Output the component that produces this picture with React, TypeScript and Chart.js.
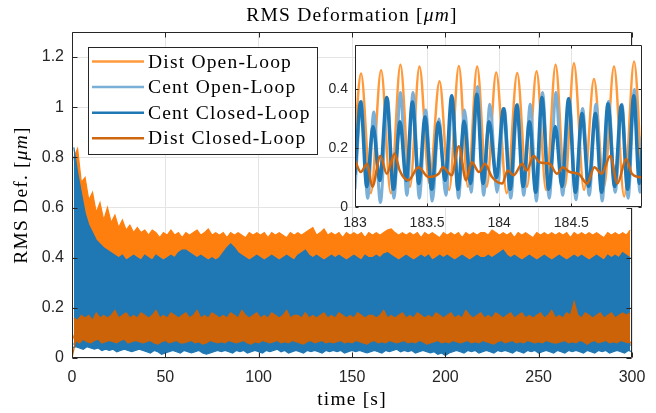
import React, { useEffect, useRef } from "react";
import { Chart, registerables } from "chart.js";
Chart.register(...registerables);

// ---------------- tick values ----------------
const xTicks = [0, 50, 100, 150, 200, 250, 300];
const yTicks = [0, 0.2, 0.4, 0.6, 0.8, 1, 1.2];
const insetXTicks = [183, 183.5, 184, 184.5];
const insetYTicks = [0, 0.2, 0.4];

const seriesNames = ["Dist Open-Loop", "Cent Open-Loop", "Cent Closed-Loop", "Dist Closed-Loop"];
const mainColors = ["#ff7f0e", "#7ab0d8", "#1f77b4", "#cc6309"];
const insetColors = ["#ff9a3c", "#7ab0d8", "#1f77b4", "#cf6710"];

// ---------------- main plot: lower envelope (t = 0,2,...,300) and upper envelope (t = 1,3,...,299) ----------------
const distOLLow = [
  0.10,0.06,0.05,0.07,0.05,0.06,0.04,0.06,0.05,0.07,
  0.05,0.06,0.05,0.04,0.06,0.05,0.07,0.05,0.06,0.05,
  0.06,0.05,0.07,0.05,0.06,0.04,0.06,0.05,0.06,0.05,
  0.05,0.07,0.06,0.05,0.06,0.05,0.04,0.06,0.05,0.06,
  0.06,0.05,0.06,0.05,0.07,0.05,0.06,0.05,0.04,0.06,
  0.05,0.06,0.05,0.06,0.05,0.07,0.05,0.06,0.05,0.06,
  0.06,0.05,0.04,0.06,0.05,0.06,0.07,0.05,0.06,0.05,
  0.05,0.06,0.05,0.07,0.06,0.05,0.06,0.04,0.05,0.06,
  0.06,0.05,0.06,0.05,0.05,0.06,0.05,0.07,0.06,0.05,
  0.05,0.06,0.04,0.06,0.05,0.06,0.05,0.06,0.07,0.05,
  0.06,0.05,0.06,0.05,0.06,0.04,0.06,0.05,0.06,0.05,
  0.05,0.07,0.05,0.06,0.05,0.06,0.05,0.06,0.04,0.06,
  0.06,0.05,0.06,0.05,0.07,0.05,0.06,0.05,0.06,0.05,
  0.05,0.06,0.05,0.06,0.05,0.06,0.04,0.06,0.05,0.07,
  0.06,0.05,0.06,0.05,0.06,0.05,0.06,0.05,0.06,0.05,
  0.06,
];
const distOLHigh = [
  0.80,0.835,0.70,0.72,0.63,0.66,0.58,0.62,0.55,0.60,
  0.54,0.57,0.52,0.55,0.51,0.53,0.50,0.52,0.50,0.51,
  0.49,0.51,0.50,0.48,0.50,0.49,0.51,0.49,0.50,0.48,
  0.50,0.49,0.50,0.51,0.49,0.50,0.515,0.49,0.50,0.49,
  0.50,0.48,0.50,0.49,0.50,0.49,0.48,0.50,0.49,0.50,
  0.49,0.50,0.48,0.50,0.49,0.50,0.49,0.48,0.50,0.49,
  0.50,0.49,0.50,0.51,0.52,0.49,0.50,0.515,0.49,0.50,
  0.49,0.50,0.48,0.50,0.49,0.50,0.49,0.50,0.48,0.50,
  0.49,0.50,0.49,0.50,0.51,0.515,0.50,0.49,0.50,0.49,
  0.50,0.49,0.50,0.48,0.50,0.49,0.50,0.49,0.48,0.50,
  0.49,0.50,0.49,0.50,0.48,0.50,0.49,0.50,0.49,0.50,
  0.50,0.49,0.51,0.50,0.49,0.50,0.49,0.50,0.48,0.50,
  0.49,0.50,0.49,0.48,0.50,0.49,0.50,0.49,0.50,0.49,
  0.50,0.49,0.50,0.48,0.50,0.49,0.50,0.49,0.50,0.49,
  0.50,0.49,0.48,0.50,0.49,0.50,0.49,0.50,0.49,0.51,
];
const centOLLow = [
  0.06,0.05,0.06,0.05,0.06,0.05,0.06,0.05,0.06,0.05,
  0.05,0.06,0.05,0.06,0.04,0.05,0.06,0.05,0.06,0.05,
  0.04,0.05,0.06,0.05,0.04,0.05,0.06,0.05,0.04,0.05,
  0.05,0.04,0.05,0.06,0.05,0.04,0.05,0.06,0.05,0.04,
  0.05,0.06,0.05,0.04,0.05,0.06,0.05,0.04,0.05,0.06,
  0.05,0.04,0.05,0.06,0.05,0.05,0.04,0.05,0.06,0.05,
  0.04,0.05,0.06,0.05,0.04,0.05,0.05,0.06,0.05,0.04,
  0.05,0.06,0.05,0.04,0.05,0.06,0.05,0.05,0.04,0.05,
  0.06,0.05,0.04,0.05,0.06,0.05,0.04,0.05,0.05,0.06,
  0.05,0.04,0.05,0.06,0.05,0.04,0.05,0.06,0.05,0.04,
  0.04,0.05,0.06,0.05,0.04,0.05,0.06,0.05,0.04,0.05,
  0.05,0.06,0.05,0.04,0.05,0.06,0.05,0.04,0.05,0.06,
  0.05,0.04,0.05,0.06,0.05,0.04,0.05,0.06,0.05,0.04,
  0.05,0.06,0.05,0.04,0.05,0.06,0.05,0.04,0.05,0.06,
  0.04,0.05,0.06,0.05,0.04,0.05,0.06,0.05,0.04,0.05,
  0.05,
];
const centOLHigh = [
  0.80,0.71,0.63,0.56,0.51,0.48,0.45,0.44,0.42,0.41,
  0.40,0.39,0.40,0.38,0.39,0.38,0.39,0.40,0.38,0.39,
  0.38,0.39,0.38,0.40,0.39,0.38,0.39,0.37,0.39,0.38,
  0.39,0.40,0.41,0.39,0.38,0.37,0.38,0.39,0.38,0.39,
  0.40,0.42,0.43,0.42,0.40,0.39,0.38,0.39,0.38,0.37,
  0.38,0.39,0.38,0.39,0.37,0.38,0.39,0.38,0.39,0.38,
  0.39,0.38,0.40,0.39,0.38,0.39,0.38,0.37,0.39,0.38,
  0.38,0.39,0.38,0.37,0.39,0.38,0.39,0.38,0.39,0.38,
  0.39,0.38,0.39,0.40,0.38,0.39,0.38,0.39,0.38,0.39,
  0.38,0.39,0.38,0.39,0.38,0.37,0.39,0.38,0.39,0.38,
  0.39,0.38,0.39,0.38,0.39,0.38,0.37,0.39,0.38,0.39,
  0.38,0.39,0.38,0.39,0.38,0.40,0.39,0.38,0.39,0.38,
  0.39,0.38,0.39,0.38,0.37,0.39,0.38,0.39,0.38,0.39,
  0.38,0.39,0.38,0.39,0.38,0.39,0.40,0.38,0.39,0.38,
  0.39,0.38,0.39,0.38,0.39,0.38,0.39,0.38,0.39,0.38,
];
const centCLLow = [
  0.04,0.045,0.04,0.035,0.045,0.04,0.035,0.04,0.03,0.035,
  0.03,0.035,0.025,0.03,0.035,0.03,0.025,0.03,0.035,0.03,
  0.025,0.02,0.03,0.025,0.015,0.02,0.025,0.03,0.025,0.02,
  0.03,0.025,0.02,0.025,0.03,0.02,0.015,0.02,0.025,0.03,
  0.025,0.03,0.025,0.02,0.03,0.025,0.03,0.02,0.025,0.03,
  0.025,0.02,0.03,0.025,0.03,0.035,0.025,0.03,0.02,0.025,
  0.03,0.025,0.02,0.03,0.025,0.03,0.025,0.02,0.03,0.025,
  0.03,0.025,0.03,0.02,0.025,0.03,0.025,0.03,0.025,0.02,
  0.025,0.03,0.025,0.02,0.03,0.025,0.03,0.035,0.025,0.03,
  0.025,0.03,0.02,0.025,0.03,0.025,0.02,0.025,0.015,0.02,
  0.01,0.02,0.025,0.03,0.025,0.02,0.03,0.025,0.03,0.02,
  0.025,0.03,0.025,0.02,0.03,0.025,0.03,0.025,0.02,0.03,
  0.025,0.02,0.03,0.025,0.03,0.02,0.025,0.03,0.025,0.02,
  0.03,0.025,0.02,0.03,0.025,0.03,0.025,0.02,0.03,0.025,
  0.02,0.03,0.025,0.03,0.02,0.025,0.03,0.025,0.02,0.03,
  0.025,
];
const centCLHigh = [
  0.84,0.74,0.66,0.58,0.53,0.50,0.47,0.455,0.44,0.43,
  0.42,0.41,0.40,0.41,0.39,0.40,0.41,0.40,0.39,0.41,
  0.40,0.39,0.41,0.40,0.39,0.40,0.41,0.40,0.42,0.43,
  0.43,0.42,0.41,0.40,0.41,0.40,0.39,0.40,0.39,0.40,
  0.42,0.44,0.455,0.44,0.42,0.41,0.40,0.39,0.40,0.41,
  0.40,0.39,0.40,0.41,0.40,0.39,0.40,0.41,0.40,0.39,
  0.41,0.42,0.43,0.41,0.40,0.41,0.40,0.39,0.40,0.41,
  0.40,0.41,0.40,0.39,0.40,0.41,0.40,0.39,0.41,0.40,
  0.40,0.41,0.40,0.415,0.42,0.41,0.40,0.39,0.40,0.41,
  0.40,0.39,0.40,0.41,0.40,0.41,0.39,0.40,0.41,0.40,
  0.41,0.40,0.39,0.40,0.41,0.40,0.39,0.40,0.41,0.40,
  0.40,0.41,0.40,0.41,0.42,0.43,0.41,0.40,0.41,0.40,
  0.39,0.40,0.41,0.40,0.39,0.40,0.41,0.40,0.39,0.40,
  0.41,0.40,0.39,0.40,0.41,0.40,0.41,0.40,0.39,0.40,
  0.41,0.40,0.39,0.41,0.40,0.41,0.40,0.42,0.41,0.40,
];
const distCLLow = [
  0.00,0.07,0.06,0.075,0.065,0.06,0.07,0.075,0.06,0.065,
  0.07,0.065,0.06,0.07,0.075,0.06,0.065,0.07,0.065,0.06,
  0.065,0.07,0.06,0.055,0.065,0.07,0.06,0.065,0.07,0.06,
  0.06,0.065,0.07,0.06,0.065,0.055,0.06,0.07,0.065,0.06,
  0.065,0.06,0.07,0.065,0.06,0.065,0.07,0.06,0.055,0.065,
  0.06,0.07,0.065,0.06,0.065,0.07,0.06,0.065,0.06,0.07,
  0.065,0.06,0.055,0.065,0.07,0.06,0.065,0.07,0.06,0.065,
  0.06,0.065,0.07,0.06,0.065,0.06,0.07,0.065,0.06,0.055,
  0.065,0.07,0.06,0.065,0.06,0.07,0.065,0.06,0.065,0.07,
  0.06,0.065,0.06,0.07,0.065,0.055,0.06,0.065,0.07,0.06,
  0.065,0.06,0.07,0.065,0.06,0.065,0.07,0.06,0.065,0.06,
  0.07,0.065,0.06,0.055,0.065,0.07,0.06,0.065,0.07,0.06,
  0.065,0.06,0.07,0.065,0.06,0.065,0.06,0.07,0.065,0.06,
  0.06,0.065,0.07,0.06,0.065,0.06,0.07,0.065,0.055,0.065,
  0.07,0.06,0.065,0.07,0.06,0.065,0.06,0.07,0.065,0.06,
  0.065,
];
const distCLHigh = [
  0.16,0.15,0.17,0.16,0.17,0.15,0.18,0.16,0.17,0.16,
  0.17,0.19,0.16,0.17,0.18,0.16,0.17,0.16,0.18,0.17,
  0.16,0.17,0.19,0.16,0.17,0.16,0.18,0.17,0.16,0.17,
  0.18,0.16,0.17,0.19,0.16,0.17,0.16,0.18,0.17,0.16,
  0.17,0.16,0.18,0.17,0.16,0.19,0.17,0.16,0.17,0.18,
  0.16,0.17,0.16,0.18,0.17,0.16,0.17,0.19,0.16,0.17,
  0.17,0.16,0.18,0.16,0.17,0.16,0.17,0.18,0.16,0.17,
  0.16,0.18,0.17,0.16,0.17,0.16,0.18,0.17,0.16,0.17,
  0.17,0.16,0.17,0.19,0.16,0.17,0.16,0.17,0.18,0.16,
  0.17,0.16,0.18,0.17,0.16,0.17,0.16,0.18,0.17,0.16,
  0.17,0.18,0.16,0.17,0.16,0.19,0.17,0.16,0.17,0.18,
  0.16,0.17,0.16,0.18,0.17,0.16,0.17,0.18,0.16,0.17,
  0.18,0.16,0.17,0.16,0.17,0.18,0.16,0.17,0.19,0.16,
  0.17,0.16,0.18,0.17,0.225,0.17,0.16,0.18,0.17,0.16,
  0.17,0.18,0.16,0.17,0.18,0.16,0.17,0.18,0.17,0.18,
];

// ---------------- inset: extrema read from the zoomed window 183 s – 185 s ----------------
const insetDistOLTime = [183.000,183.042,183.110,183.181,183.248,183.315,183.381,183.447,183.516,183.586,183.653,183.720,183.783,183.847,183.913,183.979,184.052,184.125,184.192,184.259,184.325,184.391,184.455,184.518,184.588,184.657,184.727,184.796,184.866,184.935,184.990];
const insetDistOLVal = [0.25,0.454,0.047,0.465,0.047,0.484,0.069,0.478,0.080,0.428,0.058,0.480,0.069,0.478,0.069,0.458,0.047,0.456,0.069,0.462,0.058,0.484,0.069,0.489,0.058,0.436,0.069,0.478,0.036,0.495,0.07];

const insetCentOLTime = [183.000,183.044,183.088,183.130,183.176,183.225,183.270,183.315,183.360,183.402,183.446,183.490,183.536,183.582,183.630,183.675,183.718,183.760,183.805,183.850,183.892,183.935,183.985,184.035,184.080,184.126,184.170,184.215,184.258,184.300,184.347,184.393,184.440,184.485,184.532,184.578,184.624,184.671,184.714,184.758,184.804,184.851,184.894,184.937,184.976,184.990];
const insetCentOLVal = [0.06,0.36,0.03,0.323,0.015,0.37,0.03,0.39,0.04,0.39,0.03,0.33,0.02,0.30,0.04,0.37,0.03,0.33,0.05,0.41,0.04,0.35,0.05,0.335,0.03,0.35,0.04,0.35,0.02,0.39,0.03,0.39,0.04,0.37,0.025,0.335,0.04,0.35,0.02,0.36,0.05,0.35,0.03,0.40,0.05,0.24];

const insetCentCLTime = [183.000,183.039,183.082,183.125,183.172,183.220,183.266,183.3125,183.355,183.398,183.442,183.486,183.532,183.578,183.625,183.671,183.714,183.757,183.801,183.845,183.888,183.930,183.980,184.030,184.076,184.122,184.166,184.210,184.253,184.296,184.343,184.389,184.435,184.481,184.528,184.574,184.620,184.667,184.710,184.754,184.800,184.847,184.890,184.933,184.972,184.990];
const insetCentCLVal = [0.11,0.357,0.069,0.274,0.09,0.373,0.06,0.29,0.09,0.357,0.08,0.306,0.06,0.288,0.09,0.379,0.06,0.292,0.08,0.384,0.08,0.29,0.10,0.334,0.06,0.346,0.07,0.29,0.05,0.373,0.06,0.274,0.07,0.368,0.05,0.318,0.07,0.318,0.05,0.351,0.07,0.346,0.06,0.379,0.08,0.20];

const insetDistCLTime = [183.00,183.04,183.085,183.12,183.176,183.22,183.275,183.31,183.37,183.44,183.51,183.58,183.61,183.67,183.72,183.77,183.81,183.86,183.90,183.95,184.02,184.06,184.10,184.16,184.19,184.24,184.28,184.35,184.40,184.44,184.49,184.55,184.61,184.66,184.71,184.77,184.82,184.88,184.92,184.97,184.99];
const insetDistCLVal = [0.158,0.119,0.147,0.069,0.174,0.113,0.182,0.124,0.091,0.135,0.102,0.113,0.135,0.108,0.207,0.091,0.152,0.119,0.147,0.102,0.08,0.124,0.108,0.147,0.124,0.174,0.152,0.147,0.113,0.135,0.119,0.113,0.08,0.135,0.113,0.174,0.08,0.163,0.113,0.102,0.10];

// ---------------- helpers ----------------
const AXIS = "#262626";
const GRID = "#e4e4e4";
const SANS = '"Liberation Sans", Arial, sans-serif';
const SERIF = '"Liberation Serif", "Times New Roman", serif';

function lowPoints(low: number[]) {
  return low.map((y, i) => ({ x: 2 * i, y }));
}
function highPoints(high: number[]) {
  return high.map((y, i) => ({ x: 2 * i + 1, y }));
}
function pairSeries(t: number[], v: number[]) {
  return t.map((x, i) => ({ x, y: v[i] }));
}

type Part = [string, boolean];
function drawRich(ctx: CanvasRenderingContext2D, parts: Part[], cx: number, cy: number, size: number, color: string, align: "center" | "left" = "center") {
  (ctx as any).letterSpacing = "1.2px";
  const fonts = parts.map(([, it]) => `${it ? "italic " : ""}${size}px ${SERIF}`);
  const widths = parts.map(([s], i) => { ctx.font = fonts[i]; return ctx.measureText(s).width; });
  const total = widths.reduce((a, b) => a + b, 0);
  let x = align === "center" ? cx - total / 2 : cx;
  ctx.fillStyle = color;
  ctx.textBaseline = "middle";
  ctx.textAlign = "left";
  parts.forEach(([s], i) => { ctx.font = fonts[i]; ctx.fillText(s, x, cy); x += widths[i]; });
  (ctx as any).letterSpacing = "0px";
}

function drawFrame(chart: any, tickLen: number, xv: number[], yv: number[]) {
  const { ctx, chartArea: a, scales } = chart;
  ctx.save();
  ctx.strokeStyle = AXIS;
  ctx.lineWidth = 1;
  const L = Math.round(a.left) + 0.5, R = Math.round(a.right) - 0.5;
  const T = Math.round(a.top) + 0.5, B = Math.round(a.bottom) - 0.5;
  ctx.beginPath();
  ctx.rect(L, T, R - L, B - T);
  for (const v of xv) {
    const p = Math.round(scales.x.getPixelForValue(v)) + 0.5;
    ctx.moveTo(p, B); ctx.lineTo(p, B - tickLen);
    ctx.moveTo(p, T); ctx.lineTo(p, T + tickLen);
  }
  for (const v of yv) {
    const p = Math.round(scales.y.getPixelForValue(v)) + 0.5;
    ctx.moveTo(L, p); ctx.lineTo(L + tickLen, p);
    ctx.moveTo(R, p); ctx.lineTo(R - tickLen, p);
  }
  ctx.stroke();
  ctx.restore();
}

const mainDecor = {
  id: "mainDecor",
  afterDraw(chart: any) {
    const { ctx, chartArea: a } = chart;
    drawFrame(chart, 5, xTicks, yTicks);
    ctx.save();
    const cx = (a.left + a.right) / 2;
    drawRich(ctx, [["RMS Deformation [", false], ["\u03bcm", true], ["]", false]], cx, 16, 19.5, "#000");
    drawRich(ctx, [["time [s]", false]], cx, 400, 19.5, "#000");
    ctx.save();
    ctx.translate(22, (a.top + a.bottom) / 2);
    ctx.rotate(-Math.PI / 2);
    drawRich(ctx, [["RMS Def. [", false], ["\u03bcm", true], ["]", false]], 0, 0, 19.5, "#000");
    ctx.restore();
    // legend
    const bx = 88.5, by = 47.5, bw = 229, bh = 107;
    ctx.fillStyle = "#fff";
    ctx.fillRect(bx, by, bw, bh);
    ctx.strokeStyle = AXIS;
    ctx.lineWidth = 1;
    ctx.strokeRect(bx, by, bw, bh);
    seriesNames.forEach((name, i) => {
      const y = 61.5 + i * 25.6;
      ctx.strokeStyle = insetColors[i];
      ctx.lineWidth = 2.5;
      ctx.beginPath();
      ctx.moveTo(92, y);
      ctx.lineTo(144, y);
      ctx.stroke();
      drawRich(ctx, [[name, false]], 148, y + 1, 19.5, "#000", "left");
    });
    ctx.restore();
  },
};

const insetDecor = {
  id: "insetDecor",
  beforeDraw(chart: any) {
    const { ctx, chartArea: a } = chart;
    ctx.save();
    ctx.fillStyle = "#fff";
    ctx.fillRect(a.left, a.top, a.right - a.left, a.bottom - a.top);
    ctx.restore();
  },
  afterDraw(chart: any) {
    drawFrame(chart, 3, insetXTicks, insetYTicks);
  },
};

function fmt(v: number) {
  return String(Number(v.toFixed(2)));
}

export default function App() {
  const mainRef = useRef<HTMLCanvasElement>(null);
  const insetRef = useRef<HTMLCanvasElement>(null);

  useEffect(() => {
    const mainLows = [distOLLow, centOLLow, centCLLow, distCLLow];
    const mainHighs = [distOLHigh, centOLHigh, centCLHigh, distCLHigh];
    const mainDatasets: any[] = [];
    seriesNames.forEach((label, i) => {
      mainDatasets.push({
        label,
        data: highPoints(mainHighs[i]),
        borderColor: mainColors[i],
        backgroundColor: mainColors[i],
        borderWidth: 1.2,
        pointRadius: 0,
        tension: 0,
        fill: "+1",
        order: 4 - i,
      });
      mainDatasets.push({
        label: label + " (low)",
        data: lowPoints(mainLows[i]),
        borderColor: mainColors[i],
        backgroundColor: mainColors[i],
        borderWidth: 1.2,
        pointRadius: 0,
        tension: 0,
        fill: false,
        order: 4 - i,
      });
    });

    const main = new Chart(mainRef.current!, {
      type: "line",
      data: { datasets: mainDatasets },
      options: {
        animation: false,
        responsive: false,
        devicePixelRatio: 1,
        layout: { padding: { top: 32, right: 24, left: 0, bottom: 0 } },
        plugins: { legend: { display: false }, tooltip: { enabled: false }, title: { display: false }, filler: { propagate: false } },
        scales: {
          x: {
            type: "linear",
            min: 0,
            max: 300,
            afterBuildTicks: (s: any) => { s.ticks = xTicks.map((value) => ({ value })); },
            afterFit: (s: any) => { s.height = 55; },
            grid: { color: GRID, drawTicks: false, lineWidth: 1 },
            border: { display: false },
            ticks: { padding: 10, color: AXIS, font: { family: SANS, size: 16 }, maxRotation: 0, autoSkip: false, callback: (v: any) => fmt(Number(v)) },
          },
          y: {
            type: "linear",
            min: 0,
            max: 1.3,
            afterBuildTicks: (s: any) => { s.ticks = yTicks.map((value) => ({ value })); },
            afterFit: (s: any) => { s.width = 72; },
            grid: { color: GRID, drawTicks: false, lineWidth: 1 },
            border: { display: false },
            ticks: { padding: 8, color: AXIS, font: { family: SANS, size: 16 }, autoSkip: false, callback: (v: any) => fmt(Number(v)) },
          },
        },
      },
      plugins: [mainDecor],
    } as any);

    const insetT = [insetDistOLTime, insetCentOLTime, insetCentCLTime, insetDistCLTime];
    const insetV = [insetDistOLVal, insetCentOLVal, insetCentCLVal, insetDistCLVal];
    const widths = [2.5, 3, 3.5, 2.5];
    const inset = new Chart(insetRef.current!, {
      type: "line",
      data: {
        datasets: seriesNames.map((label, i) => ({
          label,
          data: pairSeries(insetT[i], insetV[i]),
          borderColor: insetColors[i],
          borderWidth: widths[i],
          pointRadius: 0,
          cubicInterpolationMode: "monotone",
          fill: false,
          order: 4 - i,
        })),
      },
      options: {
        animation: false,
        responsive: false,
        devicePixelRatio: 1,
        layout: { padding: { top: 11.5, right: 14, left: 0, bottom: 0 } },
        plugins: { legend: { display: false }, tooltip: { enabled: false }, title: { display: false } },
        scales: {
          x: {
            type: "linear",
            min: 183,
            max: 184.99,
            afterBuildTicks: (s: any) => { s.ticks = insetXTicks.map((value) => ({ value })); },
            afterFit: (s: any) => { s.height = 23; },
            grid: { color: GRID, drawTicks: false, lineWidth: 1 },
            border: { display: false },
            ticks: { padding: 8, color: AXIS, font: { family: SANS, size: 14 }, maxRotation: 0, autoSkip: false, callback: (v: any) => fmt(Number(v)) },
          },
          y: {
            type: "linear",
            min: 0,
            max: 0.55,
            afterBuildTicks: (s: any) => { s.ticks = insetYTicks.map((value) => ({ value })); },
            afterFit: (s: any) => { s.width = 35; },
            grid: { color: GRID, drawTicks: false, lineWidth: 1 },
            border: { display: false },
            ticks: { padding: 7, color: AXIS, font: { family: SANS, size: 14 }, autoSkip: false, callback: (v: any) => fmt(Number(v)) },
          },
        },
      },
      plugins: [insetDecor],
    } as any);

    return () => {
      main.destroy();
      inset.destroy();
    };
  }, []);

  return (
    <div style={{ position: "fixed", left: 0, top: 0, width: 656, height: 413, background: "#fff" }}>
      <canvas ref={mainRef} width={656} height={413} style={{ position: "absolute", left: 0, top: 0, width: 656, height: 413 }} />
      <canvas ref={insetRef} width={336} height={200} style={{ position: "absolute", left: 320, top: 30, width: 336, height: 200 }} />
    </div>
  );
}
